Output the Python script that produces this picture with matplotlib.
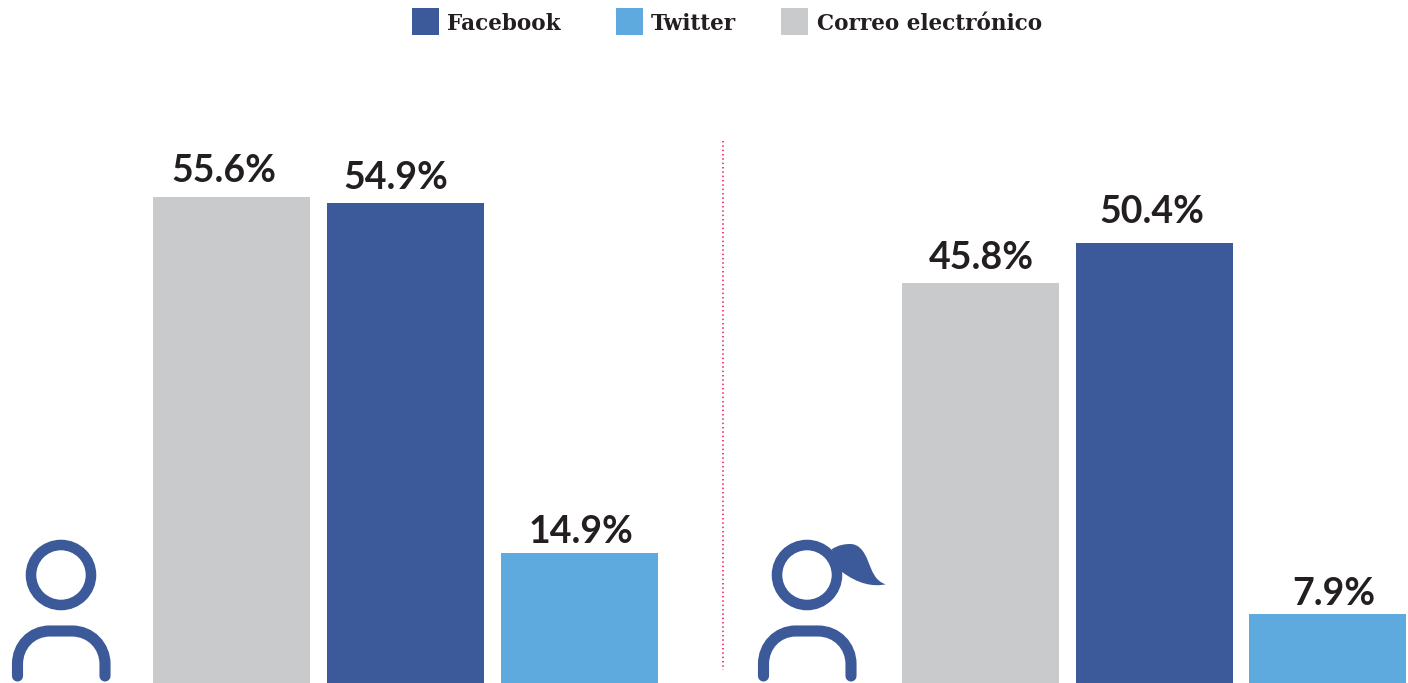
import matplotlib
matplotlib.use('Agg')
import matplotlib.pyplot as plt
from matplotlib.patches import Circle, PathPatch, Rectangle
from matplotlib.path import Path

# datos
series = ['Correo electrónico', 'Facebook', 'Twitter']
hombres = [55.6, 54.9, 14.9]
mujeres = [45.8, 50.4, 7.9]
legend_order = ['Facebook', 'Twitter', 'Correo electrónico']

colors = {'Facebook': '#3c5a99', 'Twitter': '#5eaadf', 'Correo electrónico': '#c9cacc'}
TEXT = '#231f20'
W, H = 1408, 683
PX_PER_UNIT = 8.735

fig = plt.figure(figsize=(W / 100, H / 100), dpi=100)

# barras
ax = fig.add_axes([0, 0, 1, 1])
ax.set_xlim(0, W)
ax.set_ylim(0, H / PX_PER_UNIT)
ax.axis('off')


def draw_group(lefts, values, label_x, label_gap):
    for left, name, val, lx, gap in zip(lefts, series, values, label_x, label_gap):
        ax.bar(left, val, width=157, align='edge', color=colors[name])
        # las etiquetas no van centradas en la barra en el original
        ax.annotate(f'{val}%', (lx, val), xytext=(0, gap * 0.72), textcoords='offset points',
                    ha='center', va='baseline', fontsize=27, fontfamily='Lato',
                    fontweight='bold', color=TEXT)


draw_group([153, 327, 501], hombres, [224, 396, 581], [15, 14, 10])
draw_group([902, 1076, 1249], mujeres, [981, 1152, 1334], [14, 20, 9])

# capa en pixeles: iconos, leyenda, separador
pix = fig.add_axes([0, 0, 1, 1])
pix.set_xlim(0, W)
pix.set_ylim(H, 0)
pix.axis('off')
pix.patch.set_alpha(0)

pix.plot([723, 723], [141, 670], color='#f0307f', lw=1.3, ls=(0, (0.8, 1.6)))


def person(dx):
    blue = colors['Facebook']
    pix.add_patch(Circle((61 + dx, 575), 30, fill=False, ec=blue, lw=7.6))
    body = Path([(17.5 + dx, 676), (17.5 + dx, 664),
                 (17.5 + dx, 646), (31 + dx, 631), (50 + dx, 631),
                 (72 + dx, 631),
                 (91 + dx, 631), (105 + dx, 646), (105 + dx, 664),
                 (105 + dx, 676)],
                [Path.MOVETO, Path.LINETO,
                 Path.CURVE4, Path.CURVE4, Path.CURVE4,
                 Path.LINETO,
                 Path.CURVE4, Path.CURVE4, Path.CURVE4,
                 Path.LINETO])
    pix.add_patch(PathPatch(body, fill=False, ec=blue, lw=8, capstyle='round'))


person(0)
person(746)

# coleta
tail = Path([(831.7, 549.3),
             (838, 545), (845, 544), (850, 544),
             (859, 544), (864, 551), (868, 561),
             (872, 571), (875, 581), (885.7, 584.3),
             (873, 587), (858, 584), (841.7, 571.7),
             (831.7, 549.3)],
            [Path.MOVETO] + [Path.CURVE4] * 12 + [Path.CLOSEPOLY])
pix.add_patch(PathPatch(tail, fc=colors['Facebook'], ec='none'))

# leyenda
for name, sx, tx in zip(legend_order, [412, 616, 781], [447, 651, 817]):
    pix.add_patch(Rectangle((sx, 8), 27, 27, fc=colors[name], ec='none'))
    pix.text(tx, 30.5, name, ha='left', va='baseline', fontsize=15.5, fontfamily='DejaVu Serif',
             fontweight='bold', color=TEXT)

fig.savefig('out.png', dpi=100)
